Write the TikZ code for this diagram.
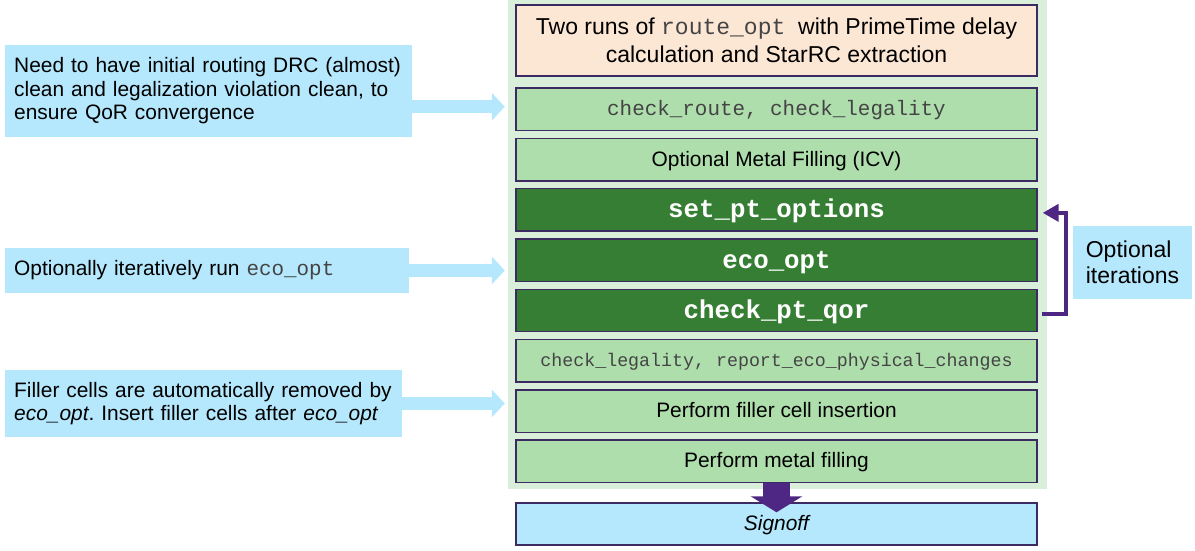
\documentclass[tikz,border=0pt]{standalone}
\usepackage{fontspec}
\setmainfont{Liberation Sans}
\setmonofont{Liberation Mono}
\usetikzlibrary{arrows.meta,calc}
\definecolor{panelg}{HTML}{DAEFD9}
\definecolor{lgreen}{HTML}{AFDEAD}
\definecolor{dgreen}{HTML}{357E33}
\definecolor{peach}{HTML}{FCE6D4}
\definecolor{callblue}{HTML}{B5E8FC}
\definecolor{bordc}{HTML}{3C2B62}
\definecolor{purp}{HTML}{4E2784}
\definecolor{monog}{HTML}{444444}
\frenchspacing
\begin{document}
\begin{tikzpicture}[x=1pt,y=-1pt,
  stepbox/.style={draw=bordc, line width=1.4pt, minimum width=521pt, minimum height=42.5pt,
    inner sep=0pt, fill=lgreen, text height=16pt, text depth=3pt,
    font=\fontsize{20.9}{23.5}\selectfont},
  darkbox/.style={stepbox, fill=dgreen, text=white, text height=18pt, text depth=2pt,
    font=\fontsize{25.8}{28}\selectfont\ttfamily\bfseries},
  monobox/.style={stepbox, text=monog},
  callout/.style={fill=callblue, inner xsep=9pt, inner ysep=0pt, align=left,
    font=\fontsize{20.9}{23.5}\selectfont, anchor=west},
  blockarrow/.style={draw=callblue, line width=12.6pt, -{Triangle[width=27pt,length=13pt]}},
  looparrow/.style={draw=purp, line width=4.5pt, -{Triangle[width=17pt,length=16pt]}},
  bigarrow/.style={draw=purp, line width=27pt, -{Triangle[width=51pt,length=16pt]}}]
\useasboundingbox (0,0) rectangle (1195,550);
% background panel
\node[fill=panelg, minimum width=539pt, minimum height=489pt, inner sep=0pt] (panel) at (777.5,244.5) {};
% steps
\node[stepbox, fill=peach, minimum height=71pt, align=center, text height=, text depth=,
  font=\fontsize{23}{28}\selectfont] (b1) at (776.5,40.5)
  {Two runs of {\ttfamily\color{monog}route\_opt}\ \ with PrimeTime delay\\calculation and StarRC extraction};
\node[monobox, font=\fontsize{20.9}{23.5}\selectfont\ttfamily] (b2) at (776.5,109.25) {check\_route, check\_legality};
\node[stepbox] (b3) at (776.5,159.55) {Optional Metal Filling (ICV)};
\node[darkbox] (b4) at (776.5,209.85) {set\_pt\_options};
\node[darkbox] (b5) at (776.5,260.15) {eco\_opt};
\node[darkbox] (b6) at (776.5,310.45) {check\_pt\_qor};
\node[monobox, text height=14pt, text depth=2.5pt, font=\fontsize{18.3}{21}\selectfont\ttfamily] (b7) at (776.5,360.75)
  {check\_legality, report\_eco\_physical\_changes};
\node[stepbox] (b8) at (776.5,411.05) {Perform filler cell insertion};
\node[stepbox] (b9) at (776.5,461.35) {Perform metal filling};
\node[stepbox, fill=callblue, minimum height=42pt, font=\fontsize{20.9}{23.5}\selectfont\itshape] (so) at (776.5,524) {Signoff};
% callouts
\node[callout, text width=389pt, minimum height=92pt] (c1) at (5,91)
  {Need to have initial routing DRC (almost)\\clean and legalization violation clean, to\\ensure QoR convergence};
\node[callout, text width=386pt, minimum height=45pt] (c2) at (5,270.5)
  {Optionally iteratively run {\ttfamily\color{monog}eco\_opt}};
\node[callout, text width=379pt, minimum height=67pt] (c3) at (5,403.5)
  {Filler cells are automatically removed by\\\textit{eco\_opt}. Insert filler cells after \textit{eco\_opt}};
\node[fill=callblue, minimum width=119pt, minimum height=73pt, inner sep=0pt, align=left,
  font=\fontsize{23}{26}\selectfont] (opt) at (1132.5,262.5) {Optional\\iterations};
% connectors
\draw[blockarrow] ($(c1.east |- b2.west)+(0,-2.5)$) -- ($(panel.west |- b2.west)+(-3,-2.5)$);
\draw[blockarrow] (c2.east) -- ($(c2.east -| panel.west)+(-3,0)$);
\draw[blockarrow] (c3.east) -- ($(c3.east -| panel.west)+(-3,0)$);
\draw[looparrow] ($(b6.east)+(4,3.5)$) -- ++(24.5,0) |- ($(b4.east)+(5,3)$);
\draw[bigarrow] (b9.south) -- ($(so.north)+(0,10)$);
\end{tikzpicture}
\end{document}
